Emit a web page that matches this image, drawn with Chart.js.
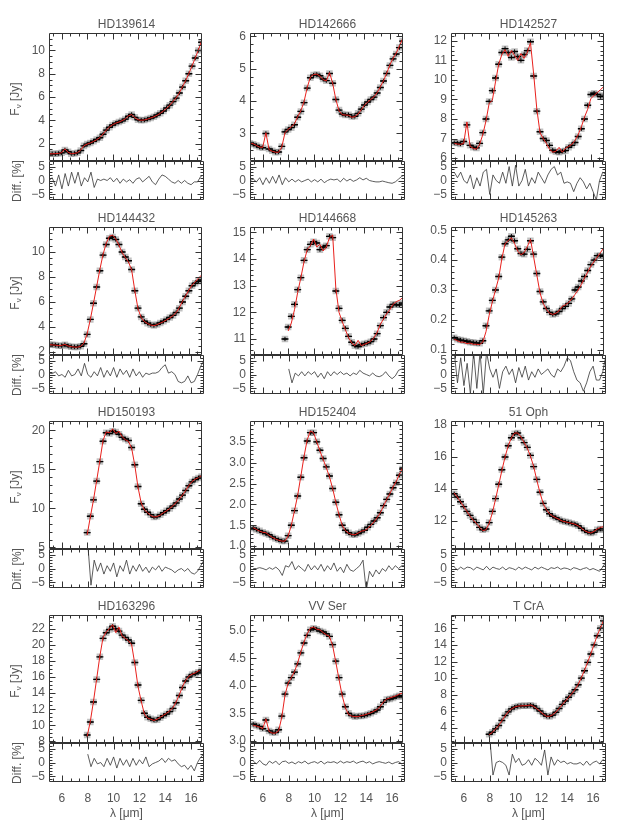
<!DOCTYPE html>
<html lang="en">
<head>
<meta charset="UTF-8">
<title>N-band spectra and model fits</title>
<script src="https://cdn.jsdelivr.net/npm/chart.js"></script>
<style>
    body {
        margin: 0;
        background: #fff;
        font-family: "Liberation Sans", Arial, sans-serif;
    }
    #page {
        position: relative;
        width: 620px;
        height: 826px;
        overflow: hidden;
    }
    #page canvas {
        position: absolute;
    }
    .lbl {
        position: absolute;
        font-size: 12px;
        line-height: 14px;
        color: #555;
        text-align: center;
        white-space: nowrap;
    }
    .rot {
        transform: rotate(-90deg);
    }
    sub {
        font-size: 8px;
        vertical-align: -2px;
    }
</style>
</head>
<body>
<div id="page"></div>

<script>
// wavelength grid (micron)
const LAM = [5.0, 5.25, 5.5, 5.75, 6.0, 6.25, 6.5, 6.75, 7.0, 7.25, 7.5, 7.75,
    8.0, 8.25, 8.5, 8.75, 9.0, 9.25, 9.5, 9.75, 10.0, 10.25, 10.5, 10.75,
    11.0, 11.25, 11.5, 11.75, 12.0, 12.25, 12.5, 12.75, 13.0, 13.25, 13.5, 13.75,
    14.0, 14.25, 14.5, 14.75, 15.0, 15.25, 15.5, 15.75, 16.0, 16.25, 16.5, 16.75, 17.0];
const X_TICKS = [6, 8, 10, 12, 14, 16];
const DIFF_TICKS = [-5, 0, 5];

// HD139614
const HD139614_FLUX = [1.13, 1.12, 1.12, 1.15, 1.2, 1.45, 1.3, 1.13, 1.15, 1.2, 1.4, 1.8,
    1.95, 2.05, 2.2, 2.35, 2.5, 2.8, 3.15, 3.4, 3.6, 3.75, 3.85, 3.95,
    4.1, 4.35, 4.5, 4.25, 4.05, 4.0, 4.02, 4.1, 4.2, 4.3, 4.45, 4.6,
    4.8, 5.05, 5.3, 5.6, 5.9, 6.35, 6.85, 7.4, 8.0, 8.65, 9.35, 10.0, 10.7];
const HD139614_MODEL = [1.12, 1.12, 1.13, 1.15, 1.22, 1.55, 1.25, 1.12, 1.15, 1.22, 1.45, 1.82,
    1.95, 2.05, 2.18, 2.33, 2.52, 2.82, 3.15, 3.42, 3.62, 3.75, 3.85, 3.97,
    4.12, 4.38, 4.5, 4.22, 4.05, 4.0, 4.03, 4.1, 4.2, 4.3, 4.43, 4.6,
    4.8, 5.03, 5.3, 5.62, 5.92, 6.35, 6.88, 7.42, 8.02, 8.68, 9.35, 10.05, 10.8];
const HD139614_DIFF = [0, 1, -2, 2, -3, 2.5, -2, 3, -1, 3, -2, 1,
    -0.5, 3, -2.5, 0.5, 0, 0.5, 0, 1, -0.5, 0.8, -1, 0.5,
    -0.5, 0.3, -1, 0.5, 1, -0.5, 0.5, 1.5, -0.5, -1.5, 0.5, 2,
    1.5, 0.5, -0.5, -1, 0, -1, 0, -1, -1.5, -0.5, -0.5, 1.5, 2];
const HD139614_YTICKS = [2, 4, 6, 8, 10];

// HD142666
const HD142666_FLUX = [2.7, 2.67, 2.63, 2.58, 2.56, 3.0, 2.52, 2.47, 2.42, 2.43, 2.6, 3.05,
    3.12, 3.18, 3.27, 3.5, 3.68, 3.95, 4.4, 4.72, 4.8, 4.82, 4.78, 4.68,
    4.63, 4.85, 4.55, 4.05, 3.72, 3.6, 3.57, 3.58, 3.52, 3.53, 3.62, 3.75,
    3.88, 3.97, 4.05, 4.12, 4.25, 4.42, 4.62, 4.85, 5.1, 5.3, 5.45, 5.65, 5.85];
const HD142666_MODEL = [2.72, 2.68, 2.63, 2.58, 2.57, 3.02, 2.5, 2.45, 2.42, 2.42, 2.58, 3.02,
    3.13, 3.2, 3.3, 3.52, 3.7, 3.98, 4.42, 4.74, 4.82, 4.83, 4.77, 4.66,
    4.62, 4.88, 4.55, 4.05, 3.7, 3.58, 3.57, 3.56, 3.5, 3.52, 3.6, 3.73,
    3.87, 3.97, 4.05, 4.13, 4.26, 4.44, 4.63, 4.86, 5.12, 5.32, 5.48, 5.7, 5.92];
const HD142666_DIFF = [0, 0.5, -0.5, 1, -1.5, 1, -1, 1.5, -1, 2, -1.5, 1,
    -0.5, 0.5, -0.5, 0.3, -0.5, 0, 0.5, -0.5, 0.3, -0.5, 0.5, -0.8,
    0, 0.5, 0.2, 0.5, -0.5, 0.8, -0.2, 0.5, -0.3, 0.2, 1, 0.2,
    0.8, 0, -0.3, -0.5, -0.5, -0.2, -0.5, -0.8, -1, -0.5, 0.5, 1.5, 2];
const HD142666_YTICKS = [3, 4, 5, 6];

// HD142527
const HD142527_FLUX = [null, 6.78, 6.77, 6.72, 6.85, 7.7, 6.65, 6.55, 6.52, 6.75, 7.3, 8.0,
    8.9, 9.45, 10.1, 10.8, 11.4, 11.6, 11.4, 11.15, 11.45, 11.2, 11.0, 11.3,
    11.5, 11.95, 10.2, 8.4, 7.35, 7.0, 6.9, 6.65, 6.4, 6.32, 6.3, 6.35,
    6.38, 6.55, 6.65, 6.8, 7.1, 7.5, 8.0, 8.7, 9.25, 9.32, 9.25, 9.15, 9.2];
const HD142527_MODEL = [null, 6.75, 6.72, 6.7, 6.75, 7.85, 6.6, 6.5, 6.45, 6.7, 7.2, 7.9,
    8.8, 8.95, 9.9, 10.8, 11.3, 11.55, 11.2, 11.5, 11.25, 11.0, 11.35, 11.1,
    11.4, 11.9, 10.3, 8.5, 7.3, 7.0, 6.75, 6.45, 6.3, 6.35, 6.55, 6.3,
    6.5, 6.6, 6.7, 6.9, 7.2, 7.6, 8.1, 8.5, 9.05, 9.2, 9.35, 9.5, 9.65];
const HD142527_DIFF = [null, 3, 1, 3, 0, -1, 2, -3, 1, -2, 3, 4,
    -5, 2, 0, -1, 3, -1, 5, -2, 5.5, -2, 0, 4,
    -2, 1, -1, 3, 1, -1, 2, 4, 5, 2, 3, -1,
    -0.5, -1, -4, -1, 1, -0.5, -3, -1, -4, -7, 0, 3, 2];
const HD142527_YTICKS = [6, 7, 8, 9, 10, 11, 12];

// HD144432
const HD144432_FLUX = [2.6, 2.57, 2.55, 2.5, 2.5, 2.58, 2.48, 2.42, 2.4, 2.4, 2.45, 2.65,
    3.4, 4.6, 5.9, 7.2, 8.5, 9.75, 10.6, 11.1, 11.2, 11.0, 10.6, 10.0,
    9.6, 9.3, 8.6, 6.9, 5.5, 4.8, 4.45, 4.3, 4.18, 4.12, 4.2, 4.32,
    4.45, 4.6, 4.75, 4.92, 5.15, 5.5, 6.0, 6.45, 6.9, 7.3, 7.5, 7.65, 7.75];
const HD144432_MODEL = [2.58, 2.56, 2.54, 2.5, 2.52, 2.6, 2.47, 2.42, 2.38, 2.38, 2.45, 2.7,
    3.45, 4.6, 5.9, 7.25, 8.6, 9.8, 10.7, 11.25, 11.35, 11.05, 10.55, 9.95,
    9.55, 9.2, 8.55, 6.9, 5.45, 4.75, 4.43, 4.27, 4.15, 4.1, 4.18, 4.3,
    4.42, 4.57, 4.72, 4.9, 5.15, 5.55, 6.05, 6.5, 6.95, 7.35, 7.6, 7.9, 8.15];
const HD144432_DIFF = [0.5, 0.3, 1, -0.5, 0, -1, 1.5, -0.5, 0, 2, -0.5, 4,
    0, -1, 1, -0.5, 2.5, -1, 1.5, -0.5, 2.5, -1, 2, 0,
    1.5, -1, 2, -0.5, 1, -1, 0.5, 0, 0.5, 0.5, 1, 2.5,
    3.5, 0.5, 1, 0, -2.5, -3, -2.5, -0.5, -3, -2.5, 0, 3, 5];
const HD144432_YTICKS = [2, 4, 6, 8, 10];

// HD144668
const HD144668_FLUX = [null, null, null, null, null, null, null, null, null, null, null, 11.0,
    11.45, 11.85, 12.3, 12.85, 13.3, 13.95, 14.35, 14.55, 14.65, 14.6, 14.35, 14.45,
    14.5, 14.85, 14.8, 12.8, 12.15, 11.7, 11.4, 11.1, 10.88, 10.75, 10.72, 10.78,
    10.82, 10.85, 10.9, 11.0, 11.2, 11.5, 11.8, 12.0, 12.2, 12.3, 12.28, 12.28, 12.35];
const HD144668_MODEL = [null, null, null, null, null, null, null, null, null, null, null, null,
    11.3, 11.6, 12.1, 12.75, 13.3, 13.9, 14.35, 14.5, 14.75, 14.45, 14.55, 14.3,
    14.45, 14.8, 14.9, 12.9, 12.0, 11.65, 11.35, 11.05, 10.85, 10.75, 10.95, 10.75,
    10.8, 10.85, 10.92, 11.05, 11.25, 11.55, 11.75, 11.95, 12.1, 12.3, 12.4, 12.45, 12.55];
const HD144668_DIFF = [null, null, null, null, null, null, null, null, null, null, null, null,
    2, -3, 0.5, -0.5, 1, -0.5, 1, 0, 1, -1, 0.5, -1.5,
    1, -0.5, 1, 0, 1, 0, 0.5, -0.5, 0.5, 0, 1.5, 0.5,
    0, -0.5, 0.5, -0.5, -0.8, -0.3, 1, -0.5, -1.5, -0.5, 1.5, 2, 2];
const HD144668_YTICKS = [11, 12, 13, 14, 15];

// HD145263
const HD145263_FLUX = [null, 0.14, 0.135, 0.132, 0.13, 0.128, 0.125, 0.124, 0.122, 0.121, 0.13, 0.18,
    0.23, 0.265, 0.3, 0.345, 0.41, 0.455, 0.468, 0.48, 0.465, 0.438, 0.422, 0.42,
    0.436, 0.465, 0.42, 0.355, 0.295, 0.26, 0.238, 0.225, 0.218, 0.22, 0.228, 0.238,
    0.245, 0.255, 0.27, 0.3, 0.31, 0.33, 0.345, 0.365, 0.385, 0.4, 0.415, 0.415, 0.413];
const HD145263_MODEL = [null, 0.135, 0.13, 0.125, 0.125, 0.12, 0.122, 0.118, 0.118, 0.117, 0.125, 0.16,
    0.215, 0.26, 0.3, 0.34, 0.405, 0.455, 0.465, 0.475, 0.455, 0.43, 0.418, 0.425,
    0.445, 0.47, 0.41, 0.35, 0.29, 0.255, 0.235, 0.222, 0.218, 0.222, 0.23, 0.245,
    0.25, 0.258, 0.27, 0.285, 0.3, 0.318, 0.34, 0.36, 0.38, 0.395, 0.41, 0.425, 0.44];
const HD145263_DIFF = [null, 8, -3, 6, -4, 4, -7, 8, -5, 8, -7, 8,
    2, -1, 2, -5, 1, 3, 0, 2, -3, 2.5, -1, 3,
    -2, 1, -1, 2, 0, 1, 2, 0, -1, 2, 1, 3,
    6, 5, 1, -2, -3, -6, -3, 1, 3, -2, -2, 1, 7];
const HD145263_YTICKS = [0.1, 0.2, 0.3, 0.4, 0.5];

// HD150193
const HD150193_FLUX = [null, null, null, null, null, null, null, null, null, null, null, null,
    6.9, 9.0, 11.1, 13.5, 16.0, 18.6, 19.7, 19.6, 19.9, 19.8, 19.5, 19.1,
    18.9, 18.7, 17.8, 15.6, 12.8, 10.6, 9.9, 9.5, 9.2, 8.9, 8.95, 9.2,
    9.45, 9.7, 10.0, 10.3, 10.7, 11.2, 11.7, 12.3, 12.9, 13.4, 13.7, 13.9, 14.1];
const HD150193_MODEL = [null, null, null, null, null, null, null, null, null, null, null, null,
    6.6, 8.9, 11.1, 13.6, 16.1, 18.7, 19.8, 19.7, 20.2, 19.6, 19.9, 19.2,
    18.8, 18.6, 17.7, 15.5, 12.7, 10.7, 9.8, 9.45, 9.1, 8.9, 8.95, 9.15,
    9.45, 9.7, 10.0, 10.35, 10.75, 11.2, 11.7, 12.3, 12.95, 13.45, 13.75, 13.95, 14.2];
const HD150193_DIFF = [null, null, null, null, null, null, null, null, null, null, null, null,
    9, -6, 3, -1, 2, -2, 1, -1, 2, -3, 1, -1,
    3, -2, 1, -1, 1.5, -1, 0.5, -1.5, 0.5, -0.5, 1, -1,
    0.5, 0, -0.5, -1.5, -0.5, 0, -1, 0, -1.5, -2, -1, 1, 3];
const HD150193_YTICKS = [5, 10, 15, 20];

// HD152404
const HD152404_FLUX = [null, 1.43, 1.4, 1.37, 1.33, 1.3, 1.27, 1.22, 1.18, 1.15, 1.12, 1.12,
    1.25, 1.5, 1.85, 2.2, 2.65, 3.12, 3.52, 3.72, 3.72, 3.5, 3.3, 3.1,
    2.9, 2.68, 2.38, 2.05, 1.75, 1.5, 1.38, 1.32, 1.28, 1.27, 1.3, 1.34,
    1.38, 1.45, 1.52, 1.6, 1.68, 1.8, 1.97, 2.12, 2.25, 2.4, 2.52, 2.7, 2.85];
const HD152404_MODEL = [null, 1.44, 1.4, 1.36, 1.33, 1.32, 1.26, 1.21, 1.17, 1.14, 1.12, 1.12,
    1.24, 1.5, 1.85, 2.22, 2.68, 3.15, 3.55, 3.76, 3.72, 3.5, 3.28, 3.08,
    2.88, 2.66, 2.38, 2.05, 1.75, 1.5, 1.37, 1.31, 1.28, 1.27, 1.31, 1.36,
    1.37, 1.42, 1.5, 1.58, 1.68, 1.8, 1.96, 2.12, 2.26, 2.42, 2.55, 2.72, 2.88];
const HD152404_DIFF = [null, 0, 0, 0.3, 0, -0.5, 0.3, -0.3, 0.5, -0.5, -2.5, 1,
    0.5, 2.5, -0.5, 1, 0, -1, 1.5, -0.5, 1, -0.5, 1.5, -1,
    1, -0.5, 2, -1, 0.5, -1.5, 1.5, -0.5, -1, 0, 1, 3,
    -8, -1, -3, -0.5, -2, 0, -1, 1, -0.5, 1, 0, 1, 1];
const HD152404_YTICKS = [1.0, 1.5, 2.0, 2.5, 3.0, 3.5];

// 51 Oph
const OPH51_FLUX = [null, 13.7, 13.5, 13.2, 12.9, 12.6, 12.35, 12.1, 11.9, 11.6, 11.45, 11.5,
    11.9, 12.6, 13.4, 14.3, 15.2, 16.0, 16.7, 17.2, 17.45, 17.5, 17.2, 16.9,
    16.6, 16.1, 15.4, 14.6, 13.8, 13.1, 12.7, 12.45, 12.3, 12.2, 12.1, 12.0,
    11.95, 11.9, 11.85, 11.8, 11.7, 11.55, 11.4, 11.3, 11.25, 11.3, 11.45, 11.5, 11.45];
const OPH51_MODEL = [null, 13.75, 13.5, 13.2, 12.9, 12.6, 12.3, 12.05, 11.85, 11.6, 11.4, 11.45,
    11.85, 12.5, 13.35, 14.25, 15.15, 16.0, 16.7, 17.2, 17.5, 17.5, 17.25, 16.9,
    16.55, 16.05, 15.4, 14.55, 13.75, 13.1, 12.7, 12.45, 12.3, 12.2, 12.1, 12.0,
    11.95, 11.9, 11.85, 11.8, 11.7, 11.55, 11.4, 11.3, 11.25, 11.35, 11.5, 11.6, 11.65];
const OPH51_DIFF = [null, 0.5, -0.5, 0.5, -0.3, 0.5, 0.3, -0.5, 0.5, 0, -0.5, 0.8,
    -0.5, 0.5, 0, -0.3, 0.5, -0.5, 0.3, 0, -0.5, 0.5, -0.3, 0.5,
    0, -0.5, 0.5, -0.2, 0.5, 0, -0.5, 0.3, 0, 0.5, -0.3, 0.2,
    0, -0.5, 0.3, 0, -0.5, 0, 0.3, -0.5, 0, -0.5, -1, 0.5, 2.5];
const OPH51_YTICKS = [12, 14, 16, 18];

// HD163296
const HD163296_FLUX = [null, null, null, null, null, null, null, null, null, null, null, null,
    8.8, 10.4, 12.9, 15.7, 18.5, 20.8, 21.5, 21.9, 22.3, 22.0, 21.7, 21.2,
    20.9, 20.6, 20.2, 17.8, 15.0, 13.1, 11.5, 11.0, 10.8, 10.65, 10.7, 10.95,
    11.2, 11.4, 11.7, 12.1, 12.8, 13.7, 14.7, 15.5, 16.0, 16.3, 16.4, 16.6, 16.8];
const HD163296_MODEL = [null, null, null, null, null, null, null, null, null, null, null, null,
    8.6, 10.5, 13.0, 15.8, 18.6, 20.9, 21.6, 22.0, 22.5, 21.5, 22.2, 21.1,
    20.8, 20.5, 20.0, 17.6, 14.8, 13.0, 11.4, 10.9, 10.75, 10.6, 10.75, 11.0,
    11.25, 11.5, 11.8, 12.2, 12.9, 13.8, 14.8, 15.6, 16.1, 16.35, 16.5, 16.75, 17.0];
const HD163296_DIFF = [null, null, null, null, null, null, null, null, null, null, null, null,
    3, -1.5, 1.5, -0.5, 0, -1.5, 1.5, -1, 2, -2, 1.5, -1,
    1, -1.5, 1.5, -1, 1, -0.5, 2, -1.5, -0.5, 0, 0.5, 1.5,
    0, 1.5, 0.5, 1, -0.5, -1.5, -1, -2.5, -1, -3, 0, 2, 3];
const HD163296_YTICKS = [8, 10, 12, 14, 16, 18, 20, 22];

// VV Ser
const VVSER_FLUX = [null, 3.3, 3.28, 3.26, 3.22, 3.38, 3.18, 3.15, 3.15, 3.2, 3.45, 3.85,
    4.05, 4.15, 4.25, 4.4, 4.6, 4.78, 4.92, 5.02, 5.05, 5.03, 5.0, 4.98,
    4.95, 4.9, 4.75, 4.45, 4.15, 3.85, 3.62, 3.5, 3.46, 3.44, 3.45, 3.45,
    3.46, 3.48, 3.5, 3.53, 3.56, 3.62, 3.7, 3.75, 3.76, 3.78, 3.8, 3.82, 3.8];
const VVSER_MODEL = [null, 3.28, 3.27, 3.25, 3.22, 3.4, 3.17, 3.14, 3.14, 3.18, 3.43, 3.83,
    4.05, 4.15, 4.26, 4.42, 4.62, 4.8, 4.95, 5.05, 5.07, 5.03, 5.02, 4.97,
    4.93, 4.9, 4.73, 4.43, 4.12, 3.82, 3.6, 3.48, 3.45, 3.44, 3.44, 3.46,
    3.47, 3.49, 3.51, 3.54, 3.57, 3.63, 3.71, 3.76, 3.78, 3.8, 3.82, 3.85, 3.87];
const VVSER_DIFF = [null, 0.5, -0.5, 0.8, -0.5, -1, 0.5, -0.3, 0.5, -0.8, 0.3, 0.5,
    -0.3, 0.2, -0.5, 0.3, -0.2, 0.5, -0.5, 0, 0.3, -0.3, 0.5, -0.5,
    0.2, 0, 0.3, -0.3, 0.5, -0.2, 0.3, 0, 0.5, -0.3, 0.2, 0.5,
    -0.2, 0.3, -0.5, 0, 0.3, 0, -0.3, 0.2, -0.5, 0, 0.3, -0.5, 0];
const VVSER_YTICKS = [3.0, 3.5, 4.0, 4.5, 5.0];

// T CrA
const TCRA_FLUX = [null, null, null, null, null, null, null, null, null, null, null, null,
    3.25, 3.5, 3.9, 4.3, 4.9, 5.5, 5.95, 6.3, 6.5, 6.62, 6.67, 6.68,
    6.68, 6.75, 6.65, 6.35, 6.05, 5.7, 5.45, 5.4, 5.55, 5.9, 6.35, 6.85,
    7.25, 7.7, 8.15, 8.6, 9.2, 10.0, 10.9, 11.9, 12.9, 14.0, 15.1, 16.0, 16.9];
const TCRA_MODEL = [null, null, null, null, null, null, null, null, null, null, null, null,
    3.2, 3.48, 3.88, 4.3, 4.88, 5.45, 5.95, 6.3, 6.52, 6.63, 6.67, 6.68,
    6.7, 6.78, 6.6, 6.32, 6.02, 5.68, 5.42, 5.42, 5.6, 5.92, 6.35, 6.82,
    7.25, 7.7, 8.15, 8.62, 9.25, 10.05, 10.95, 11.95, 12.95, 14.05, 15.15, 16.05, 16.95];
const TCRA_DIFF = [null, null, null, null, null, null, null, null, null, null, null, null,
    9, -4.5, 0, 0.5, 0, -1, -4.5, 3, 0, 1.5, -1, -0.5,
    1, -1, 1.5, 0.5, -1, 4.5, -4.5, 2, -1, 1, 0, 0.5,
    -0.5, 0, -0.5, -0.5, 0, -1, 0.5, -1, 0, 0.5, -0.5, 1, 0.5];
const TCRA_YTICKS = [4, 6, 8, 10, 12, 14, 16];

const PANELS = [
    { name: 'HD139614', flux: HD139614_FLUX, model: HD139614_MODEL, diff: HD139614_DIFF, yticks: HD139614_YTICKS, ymin: 0.5, ymax: 11.5, minor: 0.5, dec: 0 },
    { name: 'HD142666', flux: HD142666_FLUX, model: HD142666_MODEL, diff: HD142666_DIFF, yticks: HD142666_YTICKS, ymin: 2.15, ymax: 6.1, minor: 0.25, dec: 0 },
    { name: 'HD142527', flux: HD142527_FLUX, model: HD142527_MODEL, diff: HD142527_DIFF, yticks: HD142527_YTICKS, ymin: 5.85, ymax: 12.4, minor: 0.25, dec: 0 },
    { name: 'HD144432', flux: HD144432_FLUX, model: HD144432_MODEL, diff: HD144432_DIFF, yticks: HD144432_YTICKS, ymin: 1.75, ymax: 12, minor: 0.5, dec: 0 },
    { name: 'HD144668', flux: HD144668_FLUX, model: HD144668_MODEL, diff: HD144668_DIFF, yticks: HD144668_YTICKS, ymin: 10.4, ymax: 15.2, minor: 0.2, dec: 0 },
    { name: 'HD145263', flux: HD145263_FLUX, model: HD145263_MODEL, diff: HD145263_DIFF, yticks: HD145263_YTICKS, ymin: 0.082, ymax: 0.511, minor: 0.02, dec: 1 },
    { name: 'HD150193', flux: HD150193_FLUX, model: HD150193_MODEL, diff: HD150193_DIFF, yticks: HD150193_YTICKS, ymin: 4.8, ymax: 21.2, minor: 1, dec: 0 },
    { name: 'HD152404', flux: HD152404_FLUX, model: HD152404_MODEL, diff: HD152404_DIFF, yticks: HD152404_YTICKS, ymin: 0.93, ymax: 4.0, minor: 0.1, dec: 1 },
    { name: '51 Oph', flux: OPH51_FLUX, model: OPH51_MODEL, diff: OPH51_DIFF, yticks: OPH51_YTICKS, ymin: 10.25, ymax: 18.25, minor: 0.5, dec: 0 },
    { name: 'HD163296', flux: HD163296_FLUX, model: HD163296_MODEL, diff: HD163296_DIFF, yticks: HD163296_YTICKS, ymin: 7.8, ymax: 23.7, minor: 0.5, dec: 0 },
    { name: 'VV Ser', flux: VVSER_FLUX, model: VVSER_MODEL, diff: VVSER_DIFF, yticks: VVSER_YTICKS, ymin: 2.96, ymax: 5.29, minor: 0.1, dec: 1 },
    { name: 'T CrA', flux: TCRA_FLUX, model: TCRA_MODEL, diff: TCRA_DIFF, yticks: TCRA_YTICKS, ymin: 2.2, ymax: 17.6, minor: 0.5, dec: 0 }
];

// page layout
const COL_LEFT = [49, 250, 451];
const ROW_TOP = [33, 227, 421, 615];
const PW = 155, MH = 128, RH = 39;
const AXW = 46, PADH = 3, PADV = 9, XH = 30;
const FONT = { family: '"Liberation Sans", Arial, sans-serif', size: 12 };
const TXT = '#555';

// draws the box and inward tick marks on all four sides
const frameTicks = {
    id: 'frameTicks',
    afterDraw(chart, args, opts) {
        const ctx = chart.ctx, a = chart.chartArea;
        const xs = chart.scales.x, ys = chart.scales.y;
        const L = Math.round(a.left) + 0.5, R = Math.round(a.right) - 0.5;
        const T = Math.round(a.top) + 0.5, B = Math.round(a.bottom) - 0.5;
        ctx.save();
        ctx.strokeStyle = '#333';
        ctx.lineWidth = 1;
        ctx.beginPath();
        ctx.rect(L, T, R - L, B - T);

        const xt = (v, len) => {
            const p = Math.round(xs.getPixelForValue(v)) + 0.5;
            ctx.moveTo(p, B); ctx.lineTo(p, B - len);
            ctx.moveTo(p, T); ctx.lineTo(p, T + len);
        };
        const yt = (v, len) => {
            const p = Math.round(ys.getPixelForValue(v)) + 0.5;
            ctx.moveTo(L, p); ctx.lineTo(L + len, p);
            ctx.moveTo(R, p); ctx.lineTo(R - len, p);
        };
        X_TICKS.forEach(v => xt(v, 6));
        const xstep = 2 / 3;
        for (let v = X_TICKS[0] - xstep; v > xs.min; v -= xstep) xt(v, 3);
        for (let i = 0; i < X_TICKS.length; i++) {
            for (let k = 1; k < 3; k++) {
                const v = X_TICKS[i] + k * xstep;
                if (v < xs.max) xt(v, 3);
            }
        }
        const yticks = opts.yticks;
        yticks.forEach(v => yt(v, 6));
        const ms = opts.minor;
        for (let v = yticks[0] - ms; v > ys.min + 1e-9; v -= ms) yt(v, 3);
        for (let i = 0; i < yticks.length; i++) {
            const next = i + 1 < yticks.length ? yticks[i + 1] : ys.max;
            for (let v = yticks[i] + ms; v < next - 1e-9 && v < ys.max; v += ms) yt(v, 3);
        }
        ctx.stroke();
        ctx.restore();
    }
};

function pts(arr) {
    const out = [];
    LAM.forEach((x, i) => { if (arr[i] !== null) out.push({ x: x, y: arr[i] }); });
    return out;
}

function addCanvas(left, top, w, h) {
    const c = document.createElement('canvas');
    c.width = w; c.height = h;
    c.style.left = left + 'px';
    c.style.top = top + 'px';
    c.style.width = w + 'px';
    c.style.height = h + 'px';
    document.getElementById('page').appendChild(c);
    return c;
}

function addLabel(html, left, top, width, rotate) {
    const d = document.createElement('div');
    d.className = 'lbl' + (rotate ? ' rot' : '');
    d.innerHTML = html;
    d.style.left = left + 'px';
    d.style.top = top + 'px';
    d.style.width = width + 'px';
    document.getElementById('page').appendChild(d);
}

// no extra room for edge labels: the plot box must sit exactly where the layout says
function noPad(s) {
    s.paddingLeft = 0; s.paddingRight = 0;
    s.paddingTop = 0; s.paddingBottom = 0;
}

function yScale(min, max, ticks, fmt) {
    return {
        min: min, max: max,
        afterFit(s) { s.width = AXW; noPad(s); },
        afterBuildTicks(s) { s.ticks = ticks.map(v => ({ value: v })); },
        grid: { display: false, drawTicks: false },
        border: { display: false },
        ticks: { padding: 4, color: TXT, font: FONT, autoSkip: false, callback: fmt }
    };
}

const baseOpts = {
    animation: false,
    responsive: false,
    devicePixelRatio: 1,
    events: [],
    plugins: { legend: { display: false }, tooltip: { enabled: false } }
};

PANELS.forEach((p, idx) => {
    const col = idx % 3, row = Math.floor(idx / 3);
    const x0 = COL_LEFT[col], y0 = ROW_TOP[row];
    const last = row === 3;

    // flux panel
    const c1 = addCanvas(x0 - AXW, y0 - PADV, AXW + PW + PADH, MH + 2 * PADV);
    new Chart(c1, {
        type: 'scatter',
        data: {
            datasets: [
                { data: pts(p.model), showLine: true, borderColor: '#e8201c', borderWidth: 1, pointRadius: 0, tension: 0 },
                { data: pts(p.flux), pointStyle: 'line', pointRadius: 3.5, borderColor: '#000', borderWidth: 1.4 },
                { data: pts(p.flux), pointStyle: 'cross', pointRadius: 2.2, borderColor: '#000', borderWidth: 1 },
                { data: pts(p.flux), pointStyle: 'rect', pointRadius: 4.6, backgroundColor: 'rgba(0,0,0,0.24)', borderWidth: 0 }
            ]
        },
        options: Object.assign({}, baseOpts, {
            layout: { padding: { left: 0, right: PADH, top: PADV, bottom: PADV } },
            plugins: Object.assign({}, baseOpts.plugins, { frameTicks: { yticks: p.yticks, minor: p.minor } }),
            scales: {
                x: { type: 'linear', min: 5, max: 17, display: false },
                y: yScale(p.ymin, p.ymax, p.yticks, v => v.toFixed(p.dec))
            }
        }),
        plugins: [frameTicks]
    });

    // residual panel
    const c2 = addCanvas(x0 - AXW, y0 + MH - PADV, AXW + PW + PADH, PADV + RH + (last ? XH : PADV));
    new Chart(c2, {
        type: 'scatter',
        data: {
            datasets: [
                { data: pts(p.diff), showLine: true, borderColor: '#333', borderWidth: 0.8, pointRadius: 0, tension: 0 }
            ]
        },
        options: Object.assign({}, baseOpts, {
            layout: { padding: { left: 0, right: PADH, top: PADV, bottom: last ? 0 : PADV } },
            plugins: Object.assign({}, baseOpts.plugins, { frameTicks: { yticks: DIFF_TICKS, minor: 1 } }),
            scales: {
                x: last ? {
                    type: 'linear', min: 5, max: 17,
                    afterFit(s) { s.height = XH; noPad(s); },
                    afterBuildTicks(s) { s.ticks = X_TICKS.map(v => ({ value: v })); },
                    grid: { display: false, drawTicks: false },
                    border: { display: false },
                    ticks: { padding: 9, color: TXT, font: FONT, autoSkip: false, maxRotation: 0 }
                } : { type: 'linear', min: 5, max: 17, display: false },
                y: yScale(-7, 7, DIFF_TICKS, v => (v < 0 ? '\u2212' + (-v) : String(v)))
            }
        }),
        plugins: [frameTicks]
    });

    // texts
    addLabel(p.name, x0, y0 - 16, PW, false);
    if (col === 0) {
        addLabel('F<sub>\u03bd</sub> [Jy]', 17 - MH / 2, y0 + MH / 2 - 7, MH, true);
        addLabel('Diff. [%]', 17 - 40, y0 + MH + RH / 2 - 7, 80, true);
    }
    if (last) {
        addLabel('\u03bb [\u03bcm]', x0, 806, PW, false);
    }
});
</script>
</body>
</html>
